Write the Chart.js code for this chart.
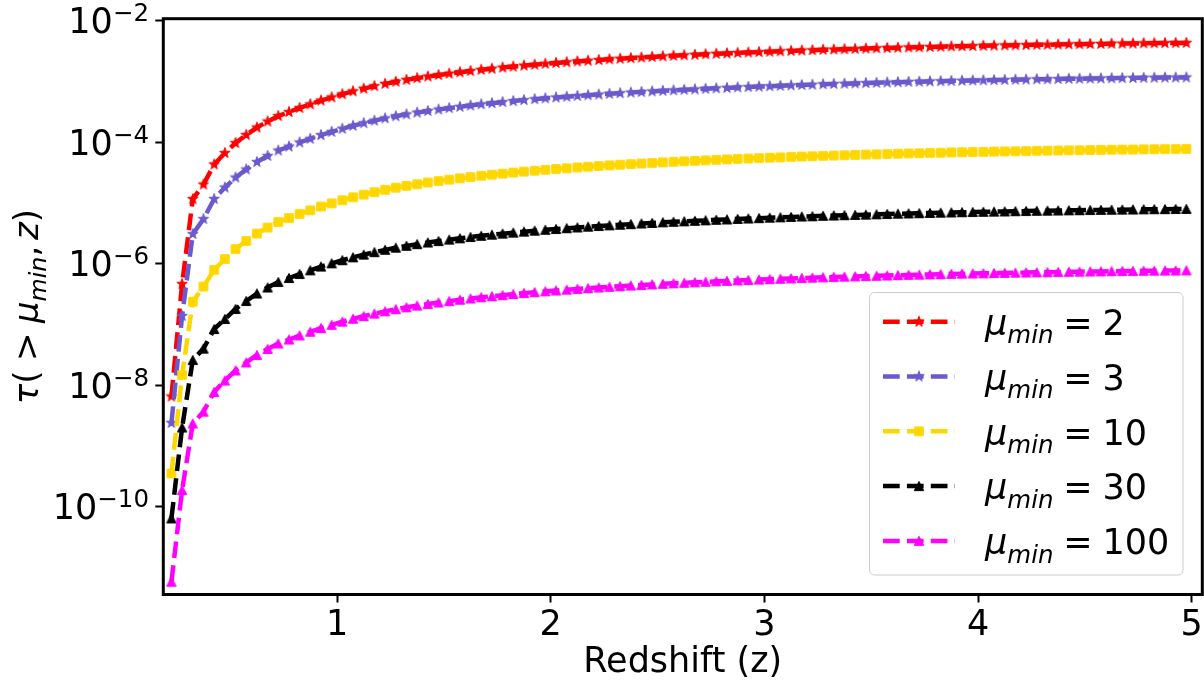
<!DOCTYPE html>
<html>
<head>
<meta charset="utf-8">
<title>Optical depth vs redshift</title>
<script src="https://cdn.jsdelivr.net/npm/chart.js@4.4.1/dist/chart.umd.min.js"></script>
<style>
  html, body { margin: 0; padding: 0; background: #fff; }
  #wrap { width: 1204px; height: 686px; }
</style>
</head>
<body>
<div id="wrap"><canvas id="tauChart" width="1204" height="686"></canvas></div>
<script>
// redshift grid (x values)
var redshift = [
  0.225, 0.275, 0.325, 0.375, 0.425, 0.475, 0.525, 0.575, 0.625, 0.675,
  0.725, 0.775, 0.825, 0.875, 0.925, 0.975, 1.025, 1.075, 1.125, 1.175,
  1.225, 1.275, 1.325, 1.375, 1.425, 1.475, 1.525, 1.575, 1.625, 1.675,
  1.725, 1.775, 1.825, 1.875, 1.925, 1.975, 2.025, 2.075, 2.125, 2.175,
  2.225, 2.275, 2.325, 2.375, 2.425, 2.475, 2.525, 2.575, 2.625, 2.675,
  2.725, 2.775, 2.825, 2.875, 2.925, 2.975, 3.025, 3.075, 3.125, 3.175,
  3.225, 3.275, 3.325, 3.375, 3.425, 3.475, 3.525, 3.575, 3.625, 3.675,
  3.725, 3.775, 3.825, 3.875, 3.925, 3.975, 4.025, 4.075, 4.125, 4.175,
  4.225, 4.275, 4.325, 4.375, 4.425, 4.475, 4.525, 4.575, 4.625, 4.675,
  4.725, 4.775, 4.825, 4.875, 4.925, 4.975
];

var muMin = [2, 3, 10, 30, 100];

var tauMu2 = [
  6.52e-9, 4.63e-7, 1.16e-5, 2.01e-5, 4.30e-5, 6.64e-5, 9.70e-5, 1.315e-4, 1.746e-4, 2.193e-4,
  2.70e-4, 3.14e-4, 3.66e-4, 4.21e-4, 4.85e-4, 5.48e-4, 6.17e-4, 6.89e-4, 7.62e-4, 8.38e-4,
  9.14e-4, 9.91e-4, 1.064e-3, 1.135e-3, 1.206e-3, 1.276e-3, 1.346e-3, 1.416e-3, 1.486e-3, 1.556e-3,
  1.622e-3, 1.690e-3, 1.756e-3, 1.824e-3, 1.888e-3, 1.952e-3, 2.014e-3, 2.075e-3, 2.138e-3, 2.196e-3,
  2.254e-3, 2.315e-3, 2.368e-3, 2.423e-3, 2.479e-3, 2.536e-3, 2.594e-3, 2.644e-3, 2.695e-3, 2.746e-3,
  2.798e-3, 2.852e-3, 2.895e-3, 2.951e-3, 2.996e-3, 3.042e-3, 3.088e-3, 3.135e-3, 3.183e-3, 3.232e-3,
  3.268e-3, 3.319e-3, 3.357e-3, 3.395e-3, 3.434e-3, 3.473e-3, 3.513e-3, 3.553e-3, 3.594e-3, 3.635e-3,
  3.663e-3, 3.704e-3, 3.733e-3, 3.776e-3, 3.804e-3, 3.833e-3, 3.862e-3, 3.892e-3, 3.922e-3, 3.952e-3,
  3.981e-3, 4.012e-3, 4.027e-3, 4.058e-3, 4.089e-3, 4.105e-3, 4.136e-3, 4.152e-3, 4.180e-3, 4.198e-3,
  4.215e-3, 4.246e-3, 4.262e-3, 4.279e-3, 4.295e-3, 4.312e-3
];

var tauMu3 = [
  2.39e-9, 1.38e-7, 3.08e-6, 5.44e-6, 1.163e-5, 1.795e-5, 2.623e-5, 3.556e-5, 4.721e-5, 5.93e-5,
  7.30e-5, 8.49e-5, 9.90e-5, 1.138e-4, 1.311e-4, 1.482e-4, 1.668e-4, 1.863e-4, 2.060e-4, 2.266e-4,
  2.471e-4, 2.680e-4, 2.877e-4, 3.069e-4, 3.261e-4, 3.450e-4, 3.640e-4, 3.829e-4, 4.018e-4, 4.207e-4,
  4.386e-4, 4.570e-4, 4.748e-4, 4.932e-4, 5.105e-4, 5.278e-4, 5.446e-4, 5.611e-4, 5.781e-4, 5.938e-4,
  6.095e-4, 6.260e-4, 6.403e-4, 6.552e-4, 6.703e-4, 6.857e-4, 7.014e-4, 7.149e-4, 7.287e-4, 7.425e-4,
  7.566e-4, 7.712e-4, 7.828e-4, 7.979e-4, 8.101e-4, 8.226e-4, 8.350e-4, 8.477e-4, 8.607e-4, 8.739e-4,
  8.837e-4, 8.975e-4, 9.077e-4, 9.180e-4, 9.286e-4, 9.391e-4, 9.499e-4, 9.607e-4, 9.718e-4, 9.829e-4,
  9.905e-4, 1.0016e-3, 1.0094e-3, 1.0210e-3, 1.0286e-3, 1.0364e-3, 1.0443e-3, 1.0524e-3, 1.0605e-3, 1.0686e-3,
  1.0765e-3, 1.0848e-3, 1.0889e-3, 1.0973e-3, 1.1057e-3, 1.1100e-3, 1.1184e-3, 1.1227e-3, 1.1303e-3, 1.1351e-3,
  1.1397e-3, 1.1481e-3, 1.1524e-3, 1.1570e-3, 1.1614e-3, 1.1660e-3
];

var tauMu10 = [
  3.53e-10, 1.47e-8, 2.37e-7, 4.2e-7, 7.9e-7, 1.1945e-6, 1.745e-6, 2.366e-6, 3.141e-6, 3.945e-6,
  4.857e-6, 5.649e-6, 6.584e-6, 7.574e-6, 8.725e-6, 9.859e-6, 1.110e-5, 1.2395e-5, 1.3708e-5, 1.5076e-5,
  1.6443e-5, 1.7828e-5, 1.9141e-5, 2.0419e-5, 2.1696e-5, 2.2955e-5, 2.4215e-5, 2.5474e-5, 2.6733e-5, 2.7992e-5,
  2.918e-5, 3.040e-5, 3.159e-5, 3.281e-5, 3.397e-5, 3.512e-5, 3.623e-5, 3.733e-5, 3.846e-5, 3.951e-5,
  4.055e-5, 4.165e-5, 4.260e-5, 4.359e-5, 4.460e-5, 4.562e-5, 4.667e-5, 4.757e-5, 4.848e-5, 4.940e-5,
  5.034e-5, 5.131e-5, 5.208e-5, 5.309e-5, 5.390e-5, 5.473e-5, 5.555e-5, 5.640e-5, 5.726e-5, 5.814e-5,
  5.879e-5, 5.971e-5, 6.039e-5, 6.108e-5, 6.178e-5, 6.248e-5, 6.320e-5, 6.392e-5, 6.466e-5, 6.539e-5,
  6.590e-5, 6.664e-5, 6.716e-5, 6.793e-5, 6.843e-5, 6.896e-5, 6.948e-5, 7.002e-5, 7.056e-5, 7.110e-5,
  7.162e-5, 7.218e-5, 7.245e-5, 7.300e-5, 7.356e-5, 7.385e-5, 7.441e-5, 7.470e-5, 7.520e-5, 7.552e-5,
  7.583e-5, 7.639e-5, 7.667e-5, 7.698e-5, 7.727e-5, 7.757e-5
];

var tauMu30 = [
  6.40e-11, 2.01e-9, 2.60e-8, 4.0e-8, 8.4e-8, 1.2277e-7, 1.7935e-7, 2.4314e-7, 3.228e-7, 4.055e-7,
  4.992e-7, 5.806e-7, 6.767e-7, 7.784e-7, 8.968e-7, 1.0133e-6, 1.1408e-6, 1.2740e-6, 1.4089e-6, 1.5495e-6,
  1.690e-6, 1.8324e-6, 1.9673e-6, 2.0986e-6, 2.2299e-6, 2.3593e-6, 2.4888e-6, 2.6182e-6, 2.7476e-6, 2.8770e-6,
  2.9991e-6, 3.1248e-6, 3.2468e-6, 3.3726e-6, 3.4909e-6, 3.6092e-6, 3.7239e-6, 3.8367e-6, 3.9532e-6, 4.0604e-6,
  4.1676e-6, 4.2804e-6, 4.3784e-6, 4.4801e-6, 4.5837e-6, 4.6891e-6, 4.7963e-6, 4.8888e-6, 4.9831e-6, 5.0774e-6,
  5.1735e-6, 5.2733e-6, 5.3529e-6, 5.4564e-6, 5.5396e-6, 5.6247e-6, 5.7097e-6, 5.7966e-6, 5.8854e-6, 5.9760e-6,
  6.0425e-6, 6.1368e-6, 6.2071e-6, 6.2774e-6, 6.3495e-6, 6.4216e-6, 6.4955e-6, 6.5695e-6, 6.6453e-6, 6.7211e-6,
  6.7729e-6, 6.8487e-6, 6.9023e-6, 6.9818e-6, 7.0336e-6, 7.0872e-6, 7.1408e-6, 7.1963e-6, 7.2518e-6, 7.3072e-6,
  7.3609e-6, 7.4182e-6, 7.4459e-6, 7.5032e-6, 7.5606e-6, 7.5901e-6, 7.6475e-6, 7.6770e-6, 7.7288e-6, 7.7621e-6,
  7.7935e-6, 7.8509e-6, 7.8804e-6, 7.9119e-6, 7.9415e-6, 7.9729e-6
];

var tauMu100 = [
  5.82e-12, 1.88e-10, 2.34e-9, 3.66e-9, 7.74e-9, 1.1945e-8, 1.745e-8, 2.366e-8, 3.141e-8, 3.945e-8,
  4.857e-8, 5.649e-8, 6.584e-8, 7.574e-8, 8.725e-8, 9.859e-8, 1.110e-7, 1.2395e-7, 1.3708e-7, 1.5076e-7,
  1.6443e-7, 1.7828e-7, 1.9141e-7, 2.0419e-7, 2.1696e-7, 2.2955e-7, 2.4215e-7, 2.5474e-7, 2.6733e-7, 2.7992e-7,
  2.918e-7, 3.040e-7, 3.159e-7, 3.281e-7, 3.397e-7, 3.512e-7, 3.623e-7, 3.733e-7, 3.846e-7, 3.951e-7,
  4.055e-7, 4.165e-7, 4.260e-7, 4.359e-7, 4.460e-7, 4.562e-7, 4.667e-7, 4.757e-7, 4.848e-7, 4.940e-7,
  5.034e-7, 5.131e-7, 5.208e-7, 5.309e-7, 5.390e-7, 5.473e-7, 5.555e-7, 5.640e-7, 5.726e-7, 5.814e-7,
  5.879e-7, 5.971e-7, 6.039e-7, 6.108e-7, 6.178e-7, 6.248e-7, 6.320e-7, 6.392e-7, 6.466e-7, 6.539e-7,
  6.590e-7, 6.664e-7, 6.716e-7, 6.793e-7, 6.843e-7, 6.896e-7, 6.948e-7, 7.002e-7, 7.056e-7, 7.110e-7,
  7.162e-7, 7.218e-7, 7.245e-7, 7.300e-7, 7.356e-7, 7.385e-7, 7.441e-7, 7.470e-7, 7.520e-7, 7.552e-7,
  7.583e-7, 7.639e-7, 7.667e-7, 7.698e-7, 7.727e-7, 7.757e-7
];

var xTickValues = [1, 2, 3, 4, 5];
var yTickValues = [1e-2, 1e-4, 1e-6, 1e-8, 1e-10];
var yTickExponents = ["\u22122", "\u22124", "\u22126", "\u22128", "\u221210"];

var FONT = "'DejaVu Sans', 'Liberation Sans', sans-serif";
Chart.defaults.font.family = FONT;

// small canvases used as filled marker shapes (star, square, triangle)
function markerImage(shape, color) {
  var c = document.createElement("canvas");
  c.width = 14;
  c.height = 14;
  var g = c.getContext("2d");
  var cx = 7, cy = 7;
  g.fillStyle = color;
  g.strokeStyle = color;
  g.lineWidth = 1;
  g.beginPath();
  if (shape === "star") {
    for (var k = 0; k < 10; k++) {
      var r = k % 2 === 0 ? 5.5 : 2.2;
      var a = -Math.PI / 2 + (k * Math.PI) / 5;
      g.lineTo(cx + r * Math.cos(a), cy + r * Math.sin(a));
    }
  } else if (shape === "square") {
    g.rect(cx - 4.3, cy - 4.3, 8.6, 8.6);
  } else {
    g.moveTo(cx, cy - 4.6);
    g.lineTo(cx + 4.7, cy + 4.4);
    g.lineTo(cx - 4.7, cy + 4.4);
  }
  g.closePath();
  g.fill();
  g.stroke();
  return c;
}

var seriesColors = ["#ff0000", "#6a5acd", "#ffd700", "#000000", "#ff00ff"];
var seriesShapes = ["star", "star", "square", "triangle", "triangle"];
var seriesValues = [tauMu2, tauMu3, tauMu10, tauMu30, tauMu100];

function toPoints(values) {
  return redshift.map(function (z, i) {
    return { x: z, y: values[i] };
  });
}

var datasets = seriesValues.map(function (values, i) {
  var img = markerImage(seriesShapes[i], seriesColors[i]);
  return {
    label: "\u03bc_min = " + muMin[i],
    data: toPoints(values),
    borderColor: seriesColors[i],
    backgroundColor: seriesColors[i],
    borderWidth: 4.5,
    borderDash: [16.7, 7.2],
    pointStyle: img,
    pointRadius: 5,
    pointHoverRadius: 5,
    fill: false,
    tension: 0,
    order: 5 - i,
    markerImg: img,
    muValue: muMin[i]
  };
});

// draw a run of mathtext-like pieces (italic, sub/superscript, spaces)
function drawParts(ctx, parts, x, y, size, measureOnly) {
  var cx = x;
  parts.forEach(function (p) {
    if (p.space) {
      cx += p.space * size;
      return;
    }
    var s = p.sub || p.sup ? size * 0.7 : size;
    ctx.font = (p.italic ? "italic " : "") + s + "px " + FONT;
    var dy = p.sub ? size * 0.24 : p.sup ? -size * 0.34 : 0;
    if (!measureOnly) ctx.fillText(p.text, cx, y + dy);
    cx += ctx.measureText(p.text).width;
  });
  return cx - x;
}

var yTitleParts = [
  { text: "\u03c4", italic: true },
  { text: "(" },
  { space: 0.28 },
  { text: ">" },
  { space: 0.28 },
  { text: "\u03bc", italic: true },
  { text: "min", italic: true, sub: true },
  { text: "," },
  { space: 0.17 },
  { text: "z", italic: true },
  { text: ")" }
];

var decorations = {
  id: "decorations",
  afterDraw: function (chart) {
    var ctx = chart.ctx;
    var area = chart.chartArea;
    var xScale = chart.scales.x;
    var yScale = chart.scales.y;

    ctx.save();
    ctx.textBaseline = "alphabetic";
    ctx.textAlign = "left";
    ctx.fillStyle = "#000";

    // plot frame
    ctx.lineWidth = 3;
    ctx.strokeStyle = "#000";
    ctx.setLineDash([]);
    ctx.strokeRect(area.left, area.top, area.right - area.left, area.bottom - area.top);

    // x tick labels
    ctx.font = "35px " + FONT;
    ctx.textAlign = "center";
    xTickValues.forEach(function (v) {
      ctx.fillText(String(v), xScale.getPixelForValue(v), 635);
    });
    ctx.textAlign = "left";

    // y tick labels as 10^n
    yTickValues.forEach(function (v, i) {
      var py = yScale.getPixelForValue(v);
      var parts = [{ text: "10" }, { text: yTickExponents[i], sup: true }];
      var w = drawParts(ctx, parts, 0, 0, 35, true);
      drawParts(ctx, parts, 149 - w, py + 12.5, 35, false);
    });

    // y axis title, rotated
    ctx.save();
    ctx.translate(38, (area.top + area.bottom) / 2);
    ctx.rotate(-Math.PI / 2);
    var tw = drawParts(ctx, yTitleParts, 0, 0, 34, true);
    drawParts(ctx, yTitleParts, -tw / 2, 0, 34, false);
    ctx.restore();

    // legend
    var box = { x: 869.5, y: 292.5, w: 313.5, h: 282.5 };
    ctx.beginPath();
    ctx.roundRect(box.x, box.y, box.w, box.h, 5);
    ctx.fillStyle = "rgba(255,255,255,0.8)";
    ctx.fill();
    ctx.lineWidth = 1;
    ctx.strokeStyle = "#cccccc";
    ctx.stroke();

    chart.data.datasets.forEach(function (ds, i) {
      var rowY = 321.7 + i * 54.8;
      ctx.beginPath();
      ctx.setLineDash([16.7, 7.2]);
      ctx.lineWidth = 4.5;
      ctx.strokeStyle = ds.borderColor;
      ctx.moveTo(883, rowY);
      ctx.lineTo(955, rowY);
      ctx.stroke();
      ctx.setLineDash([]);
      var img = ds.markerImg;
      ctx.drawImage(img, 919 - img.width / 2, rowY - img.height / 2);

      ctx.fillStyle = "#000";
      drawParts(ctx, [
        { text: "\u03bc", italic: true },
        { text: "min", italic: true, sub: true },
        { space: 0.28 },
        { text: "=" },
        { space: 0.28 },
        { text: String(ds.muValue) }
      ], 985, rowY + 13.3, 35, false);
    });

    ctx.restore();
  }
};

var ctx = document.getElementById("tauChart").getContext("2d");

var tauChart = new Chart(ctx, {
  type: "line",
  data: { datasets: datasets },
  options: {
    responsive: false,
    devicePixelRatio: 1,
    animation: false,
    layout: {
      autoPadding: false,
      padding: { top: 18.7, right: 1.7, bottom: 0, left: 0 }
    },
    plugins: {
      legend: { display: false },
      tooltip: { enabled: false }
    },
    scales: {
      x: {
        type: "linear",
        min: 0.187,
        max: 5.0496,
        afterBuildTicks: function (scale) {
          scale.ticks = xTickValues.map(function (v) {
            return { value: v };
          });
        },
        afterFit: function (scale) {
          scale.height = 91.5;
          scale.paddingLeft = 0;
          scale.paddingRight = 0;
        },
        grid: {
          drawOnChartArea: false,
          drawTicks: true,
          tickLength: 8,
          tickWidth: 2,
          tickColor: "#000"
        },
        border: { display: false },
        ticks: { display: false },
        title: {
          display: true,
          text: "Redshift (z)",
          color: "#000",
          font: { size: 35 },
          padding: { top: 0, bottom: 2 }
        }
      },
      y: {
        type: "logarithmic",
        min: 3.59e-12,
        max: 1.079e-2,
        afterBuildTicks: function (scale) {
          scale.ticks = yTickValues.map(function (v) {
            return { value: v };
          });
        },
        afterFit: function (scale) {
          scale.width = 163.3;
          scale.paddingTop = 0;
          scale.paddingBottom = 0;
        },
        grid: {
          drawOnChartArea: false,
          drawTicks: true,
          tickLength: 8,
          tickWidth: 2,
          tickColor: "#000"
        },
        border: { display: false },
        ticks: { display: false }
      }
    }
  },
  plugins: [decorations]
});
</script>
</body>
</html>
